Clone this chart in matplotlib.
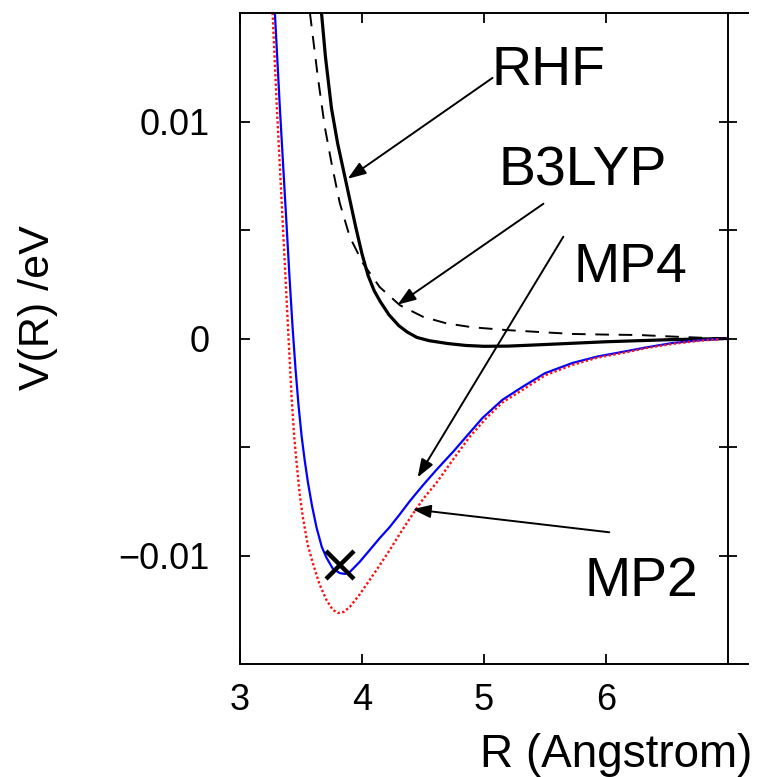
import matplotlib
matplotlib.use("Agg")
import matplotlib.pyplot as plt
from matplotlib.lines import Line2D

plt.rcParams['font.family'] = ['Liberation Sans', 'DejaVu Sans']

# ---- data ----
r_rhf = [3.668, 3.70, 3.75, 3.80, 3.85, 3.90, 3.95, 4.00, 4.05, 4.10, 4.15, 4.22, 4.30, 4.37, 4.45,
         4.55, 4.70, 4.85, 5.00, 5.20, 5.45, 5.724, 6.00, 6.272, 6.55, 6.818, 7.0]
v_rhf = [0.01501, 0.0130, 0.0106, 0.0090, 0.0077, 0.0064, 0.0051, 0.0039, 0.0029, 0.0022, 0.0017, 0.0011,
         0.0006, 0.0003, 0.00005, -0.0001, -0.00023, -0.00032, -0.00036, -0.00035, -0.00029, -0.00022,
         -0.00015, -0.00010, -0.00005, -0.00002, 0.0]

r_b3lyp = [3.573, 3.638, 3.695, 3.753, 3.818, 3.900, 4.006, 4.145, 4.309, 4.50, 4.691, 4.90, 5.182,
           5.45, 5.724, 6.00, 6.272, 6.542, 6.80, 7.0]
v_b3lyp = [0.01501, 0.01205, 0.00975, 0.0080, 0.00624, 0.00468, 0.00348, 0.00237, 0.00154, 0.0010,
           0.0007, 0.00052, 0.00039, 0.0003, 0.00021, 0.00018, 0.00016, 0.00009, 0.00003, 0.0]

r_mp4 = [3.286, 3.327, 3.382, 3.405, 3.43, 3.455, 3.48, 3.505, 3.53, 3.556, 3.59, 3.627, 3.67, 3.709,
         3.76, 3.818, 3.86, 3.90, 3.98, 4.063, 4.145, 4.227, 4.31, 4.391, 4.50, 4.609, 4.75, 4.881,
         4.988, 5.15, 5.315, 5.50, 5.724, 5.93, 6.133, 6.34, 6.542, 6.77, 7.0]
v_mp4 = [0.01501, 0.0106, 0.0052, 0.0029, 0.0006, -0.0014, -0.0031, -0.0045, -0.0056, -0.0066,
         -0.0077, -0.0087, -0.0096, -0.0101, -0.0106, -0.01081, -0.01085, -0.01076, -0.0103, -0.00975,
         -0.0092, -0.00869, -0.0081, -0.0075, -0.00676, -0.00606, -0.0052, -0.00435, -0.00366,
         -0.00283, -0.00223, -0.0016, -0.00113, -0.00083, -0.00062, -0.0004, -0.00021, -0.00008, 0.0]

r_mp2 = [3.267, 3.303, 3.352, 3.375, 3.398, 3.423, 3.444, 3.464, 3.49, 3.515, 3.555, 3.597, 3.65,
         3.709, 3.76, 3.802, 3.85, 3.90, 3.98, 4.063, 4.145, 4.227, 4.31, 4.391, 4.50, 4.609, 4.75,
         4.881, 5.020, 5.15, 5.315, 5.50, 5.724, 5.93, 6.133, 6.34, 6.542, 6.77, 7.0]
v_mp2 = [0.01501, 0.01053, 0.00514, 0.0026, 0.0, -0.0027, -0.0045, -0.00574, -0.0072, -0.00823,
         -0.0095, -0.01035, -0.0113, -0.01205, -0.0125, -0.01265, -0.0126, -0.01237, -0.0118, -0.01113,
         -0.01045, -0.00975, -0.0090, -0.0083, -0.0074, -0.00666, -0.00555, -0.00454, -0.00366,
         -0.00295, -0.00237, -0.0017, -0.00122, -0.00088, -0.00067, -0.00043, -0.00025, -0.0001, 0.0]

marker_r = [3.818]
marker_v = [-0.01044]

labels = ['RHF', 'B3LYP', 'MP4', 'MP2']
label_pos = [(5.061, 0.01169), (5.119, 0.00704), (5.732, 0.00262), (5.822, -0.01187)]
arrow_tail = [(5.07, 0.01201), (5.487, 0.00621), (5.650, 0.00469), (6.027, -0.00893)]
arrow_tip = [(3.883, 0.00736), (4.292, 0.00156), (4.456, -0.00640), (4.415, -0.00787)]

xticks = [3, 4, 5, 6]
yticks = [-0.01, -0.005, 0, 0.005, 0.01]
yticklabels = ['\u22120.01', '', '0', '', '0.01']

# ---- figure ----
W, H = 760, 777
fig = plt.figure(figsize=(W / 100, H / 100), dpi=100)
L, R_, T, B = 240, 728, 13, 664
ax = fig.add_axes([L / W, 1 - B / H, (R_ - L) / W, (B - T) / H])

ax.plot(r_rhf, v_rhf, color='black', lw=2.3)
ax.plot(r_b3lyp, v_b3lyp, color='black', lw=1.4, linestyle=(0, (7, 5)))
ax.plot(r_mp4, v_mp4, color='#0000ff', lw=1.6)
ax.plot(r_mp2, v_mp2, color='#ff1010', lw=1.7, linestyle=(0, (1, 1)))
ax.plot(marker_r, marker_v, marker='x', color='black', ms=20, mew=3.2, linestyle='none')

for lab, (tx, ty), tail, tip in zip(labels, label_pos, arrow_tail, arrow_tip):
    ax.text(tx, ty, lab, fontsize=40, ha='left', va='baseline', color='black')
    ax.annotate('', xy=tip, xytext=tail,
                arrowprops=dict(arrowstyle='-|>,head_length=1.1,head_width=0.4',
                                color='black', lw=1.4, shrinkA=0, shrinkB=0))

ax.set_xlim(3, 7)
ax.set_ylim(-0.015, 0.015)
ax.set_xticks(xticks)
ax.set_xticklabels([str(t) for t in xticks])
ax.set_yticks(yticks)
ax.set_yticklabels(yticklabels)

for s in ax.spines.values():
    s.set_linewidth(1.4)

ax.tick_params(axis='x', which='both', direction='in', top=True, bottom=True,
               length=7, width=1.3, labelsize=26, pad=14)
ax.tick_params(axis='y', which='both', direction='in', left=True, right=False,
               length=7, width=1.3, labelsize=26, pad=22)
# right-side ticks crossing the spine
ax2 = ax.twinx()
ax2.set_ylim(ax.get_ylim())
ax2.set_yticks(yticks)
ax2.set_yticklabels([])
ax2.tick_params(axis='y', direction='inout', length=13, width=1.3, right=True)
for s in ax2.spines.values():
    s.set_visible(False)

# small extensions of top/bottom frame lines beyond the right spine
for yy in (T, B):
    fig.add_artist(Line2D([R_ / W, 748 / W], [1 - yy / H, 1 - yy / H],
                          color='black', lw=1.4, transform=fig.transFigure))

fig.text(38 / W, 1 - 308 / H, 'V(R) /eV', rotation=90, fontsize=31,
         ha='center', va='center')
fig.text(752 / W, 1 - 767 / H, 'R (Angstrom)', fontsize=33,
         ha='right', va='baseline')

fig.savefig('out.png', dpi=100)
